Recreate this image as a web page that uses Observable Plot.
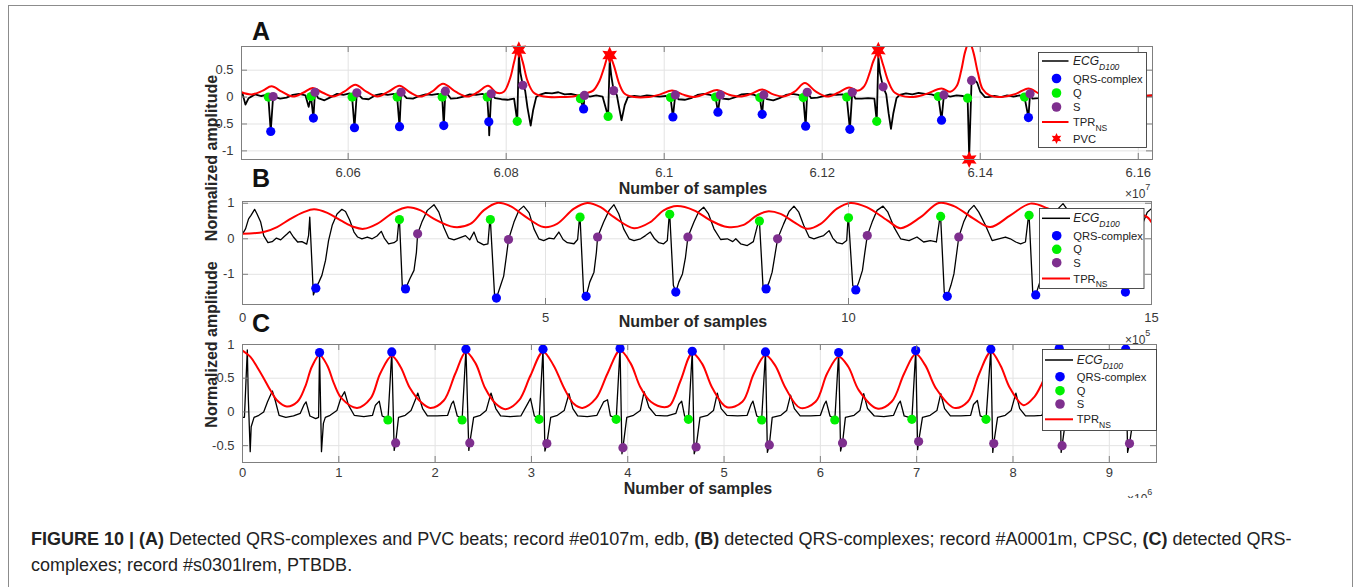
<!DOCTYPE html>
<html><head><meta charset="utf-8">
<script src="https://cdn.jsdelivr.net/npm/d3@7"></script>
<script src="https://cdn.jsdelivr.net/npm/@observablehq/plot@0.6"></script>
<style>
html,body{margin:0;padding:0;background:#fff;}
#fig{position:relative;width:1356px;height:587px;overflow:hidden;font-family:"Liberation Sans",Arial,Helvetica,sans-serif;background:#fff;}
.panel{position:absolute;left:0;width:1356px;}
.panel svg{overflow:visible;display:block;}
#frame{position:absolute;left:8px;top:5px;width:1343px;height:640px;border:1.5px solid #8c8c8c;border-bottom:none;}
.cap{position:absolute;left:31px;font-size:18px;line-height:16px;color:#222;white-space:nowrap;}
</style></head>
<body><div id="fig"><div id="frame"></div></div>
<script>
// ---------------- DATA ----------------
// Panel A (x in units of 1e7 samples)
const aXTicks = [6.06, 6.08, 6.1, 6.12, 6.14, 6.16];
const aXTickLabels = ["6.06", "6.08", "6.1", "6.12", "6.14", "6.16"];
const aYTicks = [-1, -0.5, 0, 0.5];
const aYTickLabels = ["-1", "-0.5", "0", "0.5"];
const aQ = [[6.0499,0.0],[6.0553,0.01],[6.0605,0.0],[6.0662,0.0],[6.0719,0.0],[6.0776,0.0],[6.0814,-0.45],[6.0894,-0.03],[6.0929,-0.36],[6.1008,-0.01],[6.1065,0.0],[6.1121,-0.01],[6.1176,-0.01],[6.1231,0.0],[6.1269,-0.45],[6.1347,0.01],[6.1384,-0.02],[6.1456,0.0]];
const aQRS = [[6.0502,-0.64],[6.0556,-0.39],[6.0608,-0.57],[6.0665,-0.55],[6.0721,-0.53],[6.0778,-0.46],[6.0898,-0.22],[6.1011,-0.37],[6.1068,-0.28],[6.1124,-0.32],[6.1179,-0.54],[6.1235,-0.60],[6.1351,-0.43],[6.1461,-0.38]];
const aS = [[6.0505,0.01],[6.0558,0.09],[6.0611,0.08],[6.0667,0.09],[6.0723,0.11],[6.0781,0.06],[6.0821,0.22],[6.0899,0.03],[6.0936,0.12],[6.1014,0.04],[6.1071,0.04],[6.1126,0.04],[6.1181,0.09],[6.1238,0.09],[6.1277,0.19],[6.1354,0.04],[6.1389,0.31],[6.1463,0.06]];
const aPVC = [[6.0816,0.88],[6.0931,0.78],[6.1271,0.87],[6.1386,-1.16]];
const aEcgBase = [[6.0466,0.08],[6.0470,-0.14],[6.0474,-0.02],[6.0482,0.05],[6.0490,0.02],[6.0497,0.04],
[6.0514,-0.03],[6.0522,-0.01],[6.0530,0.04],[6.0538,0.06],[6.0546,0.03],[6.0550,-0.18],
[6.0562,-0.02],[6.0570,-0.06],[6.0578,0.0],[6.0586,0.06],[6.0594,0.04],[6.0602,0.07],
[6.0618,-0.03],[6.0626,-0.04],[6.0634,0.03],[6.0642,0.06],[6.0650,0.04],[6.0658,0.06],
[6.0674,-0.02],[6.0682,-0.03],[6.0690,0.02],[6.0698,0.05],[6.0706,0.04],[6.0714,0.06],
[6.0730,-0.03],[6.0738,-0.02],[6.0746,0.01],[6.0754,0.05],[6.0762,0.04],[6.0770,0.06],
[6.0786,-0.02],[6.0794,-0.04],[6.0802,-0.05],[6.0810,-0.03],
[6.0842,0.04],[6.0850,0.08],[6.0858,0.07],[6.0866,0.09],[6.0874,0.05],[6.0882,0.06],[6.0890,0.03],
[6.0906,0.01],[6.0914,0.03],[6.0922,0.01],
[6.0954,0.0],[6.0962,0.02],[6.0970,0.01],[6.0978,0.03],[6.0986,0.02],[6.0994,0.01],[6.1002,0.02],
[6.1018,-0.04],[6.1026,-0.05],[6.1034,-0.02],[6.1042,0.04],[6.1050,0.06],[6.1058,0.04],
[6.1074,-0.03],[6.1082,-0.04],[6.1090,0.0],[6.1098,0.05],[6.1106,0.06],[6.1114,0.04],
[6.1130,-0.04],[6.1138,-0.06],[6.1146,-0.02],[6.1154,0.04],[6.1162,0.06],[6.1170,0.04],
[6.1186,-0.02],[6.1194,-0.01],[6.1202,0.02],[6.1210,0.05],[6.1218,0.04],[6.1226,0.05],
[6.1242,-0.03],[6.1250,-0.03],[6.1258,-0.02],[6.1266,-0.03],
[6.1298,0.04],[6.1306,0.07],[6.1314,0.05],[6.1322,0.08],[6.1330,0.06],[6.1338,0.05],
[6.1362,0.01],[6.1370,0.03],[6.1378,0.02],
[6.1410,0.0],[6.1418,0.02],[6.1426,0.0],[6.1434,0.03],[6.1442,0.01],[6.1450,0.03],
[6.1466,-0.03],[6.1474,-0.02],[6.1482,0.02],[6.1609,0.02],[6.1618,0.03]];
const aEcgExtra = [[6.07785,-0.71],[6.0816,0.78],[6.0818,0.45],[6.0824,0.12],[6.0827,-0.2],[6.0831,-0.53],[6.0834,-0.25],[6.0838,0.0],
[6.0931,0.68],[6.0933,0.4],[6.0940,0.04],[6.0943,-0.2],[6.0946,-0.43],[6.0950,-0.15],
[6.1271,0.75],[6.1273,0.45],[6.1281,0.05],[6.1284,-0.3],[6.1287,-0.59],[6.1290,-0.3],[6.1294,-0.02],
[6.1386,-1.1],[6.1392,0.33],[6.1396,0.27],[6.1400,0.1],[6.1406,0.0]];
const aTPR = [[6.0465,0.09],[6.0478,0.05],[6.0492,0.12],[6.0503,0.2],[6.0516,0.1],[6.0530,0.01],[6.0543,0.08],[6.0555,0.17],[6.0568,0.08],[6.0581,0.01],[6.0595,0.1],[6.0609,0.23],[6.0623,0.1],[6.0637,0.01],[6.0651,0.1],[6.0665,0.21],[6.0678,0.09],[6.0691,0.01],[6.0706,0.1],[6.0720,0.25],[6.0736,0.1],[6.0751,0.01],[6.0764,0.09],[6.0777,0.21],[6.0788,0.08],[6.0797,0.1],[6.0805,0.35],[6.0810,0.65],[6.0815,0.9],[6.0821,0.65],[6.0827,0.3],[6.0835,0.08],[6.0848,0.01],
[6.0870,0.0],[6.0888,0.02],[6.0900,0.07],[6.0910,0.12],[6.0918,0.3],[6.0924,0.55],[6.0930,0.79],[6.0936,0.6],[6.0943,0.25],[6.0950,0.06],[6.0962,0.0],[6.0980,0.0],[6.0995,0.05],[6.1010,0.12],[6.1023,0.05],[6.1037,0.0],[6.1052,0.06],[6.1067,0.13],[6.1081,0.05],[6.1096,0.01],[6.1110,0.06],[6.1124,0.14],[6.1138,0.05],[6.1151,0.01],[6.1165,0.1],[6.1178,0.26],[6.1192,0.1],[6.1206,0.01],[6.1220,0.08],[6.1234,0.18],[6.1245,0.12],[6.1253,0.2],[6.1260,0.45],[6.1265,0.68],[6.1271,0.84],[6.1277,0.6],[6.1284,0.28],[6.1292,0.08],[6.1311,0.0],[6.1330,0.05],[6.1351,0.16],[6.1362,0.1],[6.1370,0.2],[6.1376,0.5],[6.1381,0.85],[6.1386,1.03],[6.1391,0.85],[6.1397,0.45],[6.1403,0.15],[6.1412,0.03],[6.1425,0.0],[6.1445,0.06],[6.1461,0.16],[6.1475,0.06],[6.1486,0.01],[6.1618,0.03]];

// Panel B (x in units of 1e5 samples)
const bXTicks = [0, 5, 10, 15];
const bXTickLabels = ["0", "5", "10", "15"];
const bYTicks = [-1, 0, 1];
const bYTickLabels = ["-1", "0", "1"];
const bQRS = [[1.21,-1.39],[2.69,-1.41],[4.19,-1.67],[5.67,-1.62],[7.15,-1.5],[8.64,-1.41],[10.12,-1.44],[11.63,-1.62],[13.09,-1.58],[14.57,-1.5]];
const bQ = [[2.59,0.54],[4.09,0.54],[5.57,0.61],[7.05,0.69],[8.53,0.50],[10.0,0.59],[11.52,0.63],[12.98,0.66]];
const bS = [[2.89,0.14],[4.39,-0.02],[5.86,0.05],[7.35,0.05],[8.83,0.0],[10.31,0.09],[11.82,0.05]];
const bEcgBase = [[0.0,0.14],[0.05,0.28],[0.10,0.56],[0.14,0.66],[0.20,0.83],[0.24,0.70],[0.30,0.47],[0.35,0.09],[0.42,-0.11],[0.49,-0.08],[0.56,0.02],[0.63,-0.03],[0.68,0.05],[0.74,0.14],[0.78,0.21],[0.84,0.05],[0.91,-0.09],[0.98,-0.08],[1.06,-0.15],[1.09,0.09],[1.11,0.61],[1.17,-1.58],
[1.26,-1.22],[1.31,-1.03],[1.37,-0.61],[1.42,-0.05],[1.48,0.38],[1.56,0.70],[1.64,0.83],[1.70,0.77],[1.77,0.52],[1.84,0.19],[1.90,0.05],[1.97,0.0],[2.06,0.05],[2.14,0.0],[2.22,0.08],[2.29,0.21],[2.34,0.02],[2.41,-0.14],[2.50,-0.11],[2.55,-0.05],[2.585,0.6],
[2.64,-1.46],[2.76,-1.13],[2.83,-0.89],[2.87,-0.38],
[2.96,0.47],[3.05,0.80],[3.16,0.96],[3.24,0.75],[3.32,0.33],[3.40,0.02],[3.49,-0.03],[3.57,0.02],[3.68,0.09],[3.75,-0.03],[3.82,0.19],[3.88,-0.08],[3.98,-0.17],[4.05,-0.14],[4.085,0.6],
[4.16,-1.60],[4.26,-1.31],[4.31,-1.05],[4.36,-0.42],
[4.48,0.47],[4.56,0.80],[4.64,0.92],[4.73,0.73],[4.81,0.28],[4.89,0.0],[4.97,-0.05],[5.06,0.02],[5.14,0.0],[5.22,0.19],[5.29,-0.02],[5.36,-0.11],[5.47,-0.14],[5.53,-0.02],[5.565,0.66],
[5.63,-1.55],[5.73,-1.22],[5.80,-0.94],[5.84,-0.38],
[5.96,0.47],[6.05,0.80],[6.13,0.96],[6.21,0.70],[6.29,0.28],[6.38,0.0],[6.46,-0.05],[6.57,0.0],[6.65,0.09],[6.73,0.19],[6.80,0.0],[6.87,-0.11],[6.95,-0.14],[7.01,-0.05],[7.045,0.74],
[7.11,-1.31],[7.20,-1.22],[7.26,-0.99],[7.31,-0.52],
[7.45,0.47],[7.53,0.77],[7.61,0.89],[7.69,0.70],[7.78,0.28],[7.89,-0.02],[8.00,0.0],[8.09,-0.08],[8.14,0.0],[8.22,-0.14],[8.33,-0.19],[8.43,-0.08],[8.525,0.56],
[8.59,-1.36],[8.69,-1.22],[8.74,-0.94],[8.79,-0.42],
[8.93,0.42],[9.02,0.77],[9.10,0.92],[9.18,0.75],[9.26,0.38],[9.35,0.05],[9.43,0.0],[9.51,0.05],[9.59,0.09],[9.68,0.23],[9.74,0.02],[9.81,-0.11],[9.90,-0.14],[9.97,-0.05],[9.995,0.64],
[10.07,-1.31],[10.17,-1.22],[10.23,-0.89],[10.27,-0.38],
[10.39,0.47],[10.47,0.80],[10.57,0.92],[10.65,0.75],[10.75,0.33],[10.86,0.0],[11.00,-0.05],[11.13,0.05],[11.24,-0.09],[11.35,-0.05],[11.45,-0.09],[11.515,0.68],
[11.58,-1.5],[11.69,-1.31],[11.74,-0.99],[11.78,-0.47],
[11.90,0.47],[11.99,0.80],[12.07,0.94],[12.15,0.75],[12.26,0.38],[12.37,-0.05],[12.48,0.0],[12.59,0.05],[12.67,0.0],[12.76,-0.09],[12.84,-0.14],[12.92,-0.09],[12.975,0.71],
[13.04,-1.5],[13.14,-1.31],[13.20,-1.0],[13.25,-0.4],[13.30,0.05],[13.38,0.47],[13.46,0.85],[13.54,0.99],[13.62,0.8],[13.72,0.3],[13.85,0.0],[14.00,-0.05],[14.20,0.05],[14.35,-0.12],[14.46,0.62],[14.52,-1.4],
[14.62,-1.25],[14.68,-0.95],[14.73,-0.4],[14.78,0.05],[14.86,0.45],[14.93,0.75],[15.0,0.85]];
const bTPR = [[0.0,0.14],[0.35,0.19],[0.57,0.33],[0.79,0.56],[1.01,0.75],[1.18,0.83],[1.40,0.73],[1.62,0.52],[1.84,0.33],[2.0,0.28],[2.22,0.42],[2.50,0.75],[2.72,0.89],[2.94,0.8],[3.16,0.56],[3.49,0.33],[3.76,0.42],[3.98,0.8],[4.20,1.01],[4.42,0.92],[4.64,0.66],[4.97,0.33],[5.19,0.42],[5.47,0.85],[5.69,1.01],[5.91,0.89],[6.13,0.61],[6.46,0.30],[6.73,0.47],[6.95,0.80],[7.17,0.92],[7.45,0.80],[7.72,0.52],[8.0,0.33],[8.27,0.39],[8.49,0.66],[8.66,0.77],[8.88,0.70],[9.10,0.47],[9.32,0.28],[9.54,0.42],[9.81,0.85],[10.03,1.01],[10.30,0.89],[10.64,0.52],[10.86,0.30],[11.19,0.61],[11.49,1.01],[11.74,0.92],[12.07,0.56],[12.34,0.33],[12.67,0.66],[13.0,0.99],[13.28,0.86],[13.6,0.55],[13.85,0.32],[14.2,0.55],[14.5,0.82],[14.8,0.7],[14.93,0.61],[15.0,0.47]];

// Panel C (x in units of 1e6 samples)
const cXTicks = [0, 1, 2, 3, 4, 5, 6, 7, 8, 9];
const cXTickLabels = ["0", "1", "2", "3", "4", "5", "6", "7", "8", "9"];
const cYTicks = [-0.5, 0, 0.5, 1];
const cYTickLabels = ["-0.5", "0", "0.5", "1"];
const cQRS = [[0.80,0.88],[1.55,0.89],[2.32,0.93],[3.12,0.93],[3.92,0.94],[4.67,0.90],[5.43,0.89],[6.19,0.88],[6.99,0.91],[7.77,0.93],[8.48,0.94],[9.17,0.93]];
const cQ = [[1.51,-0.12],[2.28,-0.12],[3.08,-0.11],[3.88,-0.11],[4.63,-0.11],[5.39,-0.12],[6.15,-0.12],[6.95,-0.11],[7.72,-0.11]];
const cS = [[1.59,-0.46],[2.36,-0.46],[3.16,-0.47],[3.95,-0.53],[4.71,-0.52],[5.47,-0.49],[6.23,-0.46],[7.02,-0.44],[7.80,-0.47],[8.51,-0.5],[9.21,-0.47]];
const cEcgBase = [[0.0,-0.08],[0.02,-0.08],[0.05,0.92],[0.06,0.22],[0.08,-0.59],[0.09,-0.22],[0.12,-0.08],[0.17,-0.05],[0.22,0.0],[0.26,0.15],[0.31,0.31],[0.34,0.17],[0.38,-0.05],[0.45,-0.08],[0.53,-0.06],[0.60,-0.02],[0.64,0.11],[0.66,0.15],[0.70,-0.06],[0.76,-0.1],[0.79,-0.08],
[0.82,-0.59],[0.84,-0.17],[0.86,-0.08],[0.91,-0.05],[0.98,0.02],[1.02,0.20],[1.06,0.30],[1.10,0.10],[1.16,-0.05],[1.26,-0.07],[1.35,-0.05],[1.38,0.10],[1.42,0.16],[1.45,-0.06],[1.48,-0.08],
[1.575,-0.57],[1.62,-0.08],[1.69,-0.05],[1.75,0.02],[1.80,0.20],[1.82,0.28],[1.87,0.05],[1.92,-0.06],[2.02,-0.06],[2.13,-0.05],[2.17,0.12],[2.19,0.16],[2.23,-0.06],[2.26,-0.08],
[2.35,-0.57],[2.40,-0.08],[2.47,-0.05],[2.53,0.02],[2.58,0.28],[2.63,0.05],[2.68,-0.06],[2.78,-0.07],[2.89,-0.06],[2.96,0.12],[2.99,0.20],[3.03,-0.06],[3.06,-0.08],
[3.14,-0.58],[3.20,-0.08],[3.27,-0.05],[3.34,0.02],[3.39,0.27],[3.43,0.05],[3.48,-0.06],[3.58,-0.07],[3.68,-0.05],[3.75,0.15],[3.79,0.18],[3.82,-0.06],[3.86,-0.08],
[3.94,-0.62],[3.99,-0.08],[4.06,-0.05],[4.13,0.02],[4.17,0.30],[4.22,0.07],[4.29,-0.05],[4.38,-0.06],[4.41,-0.06],[4.50,-0.02],[4.53,0.11],[4.56,0.16],[4.59,-0.06],[4.61,-0.08],
[4.69,-0.62],[4.75,-0.08],[4.83,-0.05],[4.89,0.02],[4.93,0.28],[4.97,0.05],[5.03,-0.05],[5.14,-0.06],[5.24,-0.05],[5.28,0.11],[5.30,0.16],[5.34,-0.06],[5.37,-0.08],
[5.45,-0.60],[5.50,-0.08],[5.59,-0.05],[5.65,0.02],[5.69,0.25],[5.73,0.05],[5.79,-0.06],[5.90,-0.06],[6.00,-0.05],[6.04,0.11],[6.06,0.16],[6.10,-0.06],[6.12,-0.08],
[6.21,-0.58],[6.26,-0.08],[6.35,-0.05],[6.41,0.02],[6.45,0.27],[6.49,0.05],[6.56,-0.06],[6.66,-0.07],[6.76,-0.05],[6.81,0.12],[6.83,0.16],[6.87,-0.06],[6.92,-0.08],
[7.01,-0.56],[7.06,-0.08],[7.14,-0.05],[7.21,0.02],[7.25,0.27],[7.29,0.05],[7.35,-0.06],[7.46,-0.06],[7.56,-0.05],[7.59,0.11],[7.63,0.17],[7.66,-0.06],[7.70,-0.08],
[7.79,-0.60],[7.84,-0.08],[7.92,-0.05],[7.98,0.02],[8.03,0.28],[8.07,0.05],[8.13,-0.06],[8.22,-0.06],[8.30,-0.05],[8.36,0.14],[8.40,-0.08],[8.44,-0.11],
[8.50,-0.60],[8.55,-0.08],[8.62,-0.05],[8.66,0.02],[8.70,0.28],[8.75,0.02],[8.85,-0.06],[9.00,-0.05],[9.06,0.15],[9.10,-0.08],[9.13,-0.11],
[9.19,-0.60],[9.25,-0.08],[9.32,-0.05],[9.38,0.02],[9.43,0.30],[9.47,0.05],[9.49,-0.02]];
const cTPR = [[0.0,0.91],[0.08,0.82],[0.15,0.67],[0.22,0.50],[0.29,0.32],[0.36,0.17],[0.46,0.08],[0.57,0.15],[0.65,0.37],[0.72,0.67],[0.80,0.84],[0.88,0.69],[0.95,0.42],[1.03,0.2],[1.19,0.06],[1.33,0.2],[1.43,0.57],[1.55,0.83],[1.64,0.67],[1.74,0.35],[1.85,0.15],[1.95,0.06],[2.09,0.17],[2.21,0.57],[2.32,0.89],[2.42,0.72],[2.52,0.35],[2.63,0.12],[2.73,0.04],[2.87,0.17],[2.99,0.54],[3.12,0.89],[3.23,0.69],[3.34,0.35],[3.44,0.12],[3.53,0.06],[3.67,0.2],[3.79,0.57],[3.92,0.91],[4.03,0.72],[4.13,0.37],[4.24,0.15],[4.38,0.07],[4.44,0.1],[4.55,0.47],[4.67,0.87],[4.77,0.72],[4.88,0.35],[5.03,0.07],[5.19,0.15],[5.31,0.57],[5.43,0.84],[5.53,0.69],[5.64,0.35],[5.79,0.06],[5.95,0.15],[6.07,0.57],[6.19,0.82],[6.29,0.67],[6.40,0.32],[6.59,0.05],[6.74,0.15],[6.87,0.57],[6.99,0.86],[7.09,0.69],[7.20,0.35],[7.39,0.06],[7.53,0.15],[7.65,0.57],[7.77,0.89],[7.87,0.69],[7.97,0.35],[8.11,0.1],[8.22,0.22],[8.30,0.42],[8.40,0.75],[8.48,0.9],[8.56,0.65],[8.66,0.2],[8.78,0.08],[8.92,0.25],[9.05,0.7],[9.17,0.9],[9.27,0.65],[9.39,0.25],[9.49,0.13]];

// Texts
const panelLetters = ["A", "B", "C"];
const xAxisTitle = "Number of samples";
const yAxisTitle = "Normalized amplitude";
const xExponents = ["7", "5", "6"];
const legendText = {ecg: ["ECG", "D100"], qrs: ["QRS-complex"], q: ["Q"], s: ["S"], tpr: ["TPR", "NS"], pvc: ["PVC"]};
const legendKeysA = ["ecg", "qrs", "q", "s", "tpr", "pvc"];
const legendKeysBC = ["ecg", "qrs", "q", "s", "tpr"];
const captionLine1 = [["FIGURE 10 | (A)", true], [" Detected QRS-complexes and PVC beats; record #e0107m, edb, ", false], ["(B)", true], [" detected QRS-complexes; record #A0001m, CPSC, ", false], ["(C)", true], [" detected QRS-", false]];
const captionLine2 = [["complexes; record #s0301lrem, PTBDB.", false]];

// ---------------- STYLE / LAYOUT ----------------
const W = 1356;
const FONT = '"Liberation Sans", Arial, Helvetica, sans-serif';
const COL = {ecg: "#000000", qrs: "#0000ff", q: "#00f000", s: "#7e2f8e", tpr: "#ff0000", pvc: "#ff0000"};
const AXIS = "#7f7f7f", GRID = "#e3e3e3";

const hexagram = {
  draw(ctx, size) {
    const R = Math.sqrt(size / Math.PI), r = R * 0.52;
    for (let i = 0; i < 12; i++) {
      const a = Math.PI / 6 * i - Math.PI / 2, rr = i % 2 ? r : R;
      const x = rr * Math.cos(a), y = rr * Math.sin(a);
      i ? ctx.lineTo(x, y) : ctx.moveTo(x, y);
    }
    ctx.closePath();
  }
};

const byX = (...lists) => lists.flat().slice().sort((p, q) => p[0] - q[0]);
const X = d => d[0], Y = d => d[1];

function makePanel(c) {
  const iH = c.height - c.mT - c.mB, iW = W - c.mL - c.mR;
  const marks = [
    Plot.gridX(c.xTicks, {stroke: GRID, strokeOpacity: 1}),
    Plot.gridY(c.yTicks, {stroke: GRID, strokeOpacity: 1}),
    Plot.line(c.ecg, {x: X, y: Y, stroke: COL.ecg, strokeWidth: c.ecgWidth, clip: true}),
    Plot.line(c.tpr, {x: X, y: Y, stroke: COL.tpr, strokeWidth: 2, curve: "catmull-rom", clip: true}),
    Plot.dot(c.qrs, {x: X, y: Y, r: 4.6, fill: COL.qrs}),
    Plot.dot(c.q, {x: X, y: Y, r: 4.6, fill: COL.q}),
    Plot.dot(c.s, {x: X, y: Y, r: 4.6, fill: COL.s})
  ];
  if (c.pvc) marks.push(Plot.dot(c.pvc, {x: X, y: Y, r: 8.5, symbol: hexagram, fill: COL.pvc}));
  marks.push(
    Plot.frame({stroke: AXIS}),
    Plot.tickX(c.xTicks, {x: d => d, insetTop: iH - 6, stroke: AXIS}),
    Plot.tickX(c.xTicks, {x: d => d, insetBottom: iH - 6, stroke: AXIS}),
    Plot.tickY(c.yTicks, {y: d => d, insetRight: iW - 6, stroke: AXIS}),
    Plot.tickY(c.yTicks, {y: d => d, insetLeft: iW - 6, stroke: AXIS}),
    Plot.axisX(c.xTicks, {tickSize: 0, tickPadding: c.xPad, tickFormat: d => c.xLabels[c.xTicks.indexOf(d)], label: null}),
    Plot.axisY(c.yTicks, {tickSize: 0, tickPadding: 8, tickFormat: d => c.yLabels[c.yTicks.indexOf(d)], label: null})
  );
  const svg = Plot.plot({
    width: W, height: c.height,
    marginTop: c.mT, marginBottom: c.mB, marginLeft: c.mL, marginRight: c.mR,
    x: {domain: c.xDomain}, y: {domain: c.yDomain},
    style: {background: "none", overflow: "visible", fontFamily: FONT, fontSize: "13px", color: "#383838"},
    marks
  });
  const div = document.createElement("div");
  div.className = "panel";
  div.style.top = c.top + "px";
  div.appendChild(svg);
  document.getElementById("fig").appendChild(div);
}

makePanel({top: 0, height: 200, mT: 46, mB: 41, mL: 241, mR: 204,
  xDomain: [6.0465, 6.1618], yDomain: [-1.16, 0.94],
  xTicks: aXTicks, xLabels: aXTickLabels, yTicks: aYTicks, yLabels: aYTickLabels, xPad: 8,
  ecg: byX(aEcgBase, aQ, aQRS, aS, aEcgExtra), tpr: aTPR, qrs: aQRS, q: aQ, s: aS, pvc: aPVC, ecgWidth: 1.8});
makePanel({top: 185, height: 150, mT: 16, mB: 31, mL: 242, mR: 205,
  xDomain: [0, 15], yDomain: [-1.85, 1.05],
  xTicks: bXTicks, xLabels: bXTickLabels, yTicks: bYTicks, yLabels: bYTickLabels, xPad: 8,
  ecg: byX(bEcgBase, bQ, bQRS, bS), tpr: bTPR, qrs: bQRS, q: bQ, s: bS, ecgWidth: 1.3});
makePanel({top: 330, height: 175, mT: 14, mB: 43, mL: 242, mR: 200,
  xDomain: [0, 9.49], yDomain: [-0.75, 1.0],
  xTicks: cXTicks, xLabels: cXTickLabels, yTicks: cYTicks, yLabels: cYTickLabels, xPad: 5,
  ecg: byX(cEcgBase, cQ, cQRS, cS), tpr: cTPR, qrs: cQRS, q: cQ, s: cS, ecgWidth: 1.3});

// ---------------- OVERLAY TEXT & LEGENDS ----------------
const ov = d3.select("#fig").append("svg")
  .attr("width", W).attr("height", 587)
  .style("position", "absolute").style("left", "0px").style("top", "0px")
  .style("font-family", FONT);

const letterPos = [[252, 40], [252, 187], [252, 331.5]];
panelLetters.forEach((t, i) => ov.append("text").attr("x", letterPos[i][0]).attr("y", letterPos[i][1])
  .attr("font-size", 25).attr("font-weight", "bold").attr("fill", "#111").text(t));

const xTitlePos = [[693, 194], [693, 327], [698, 494]];
xTitlePos.forEach(p => ov.append("text").attr("x", p[0]).attr("y", p[1]).attr("text-anchor", "middle")
  .attr("font-size", 16).attr("font-weight", "bold").attr("fill", "#262626").text(xAxisTitle));

const yTitlePos = [[216.5, 158], [216.5, 344.5]];
yTitlePos.forEach(p => ov.append("text").attr("transform", `translate(${p[0]},${p[1]}) rotate(-90)`)
  .attr("text-anchor", "middle").attr("font-size", 16).attr("font-weight", "bold").attr("fill", "#262626").text(yAxisTitle));

ov.append("clipPath").attr("id", "cut").append("rect").attr("x", 0).attr("y", 0).attr("width", W).attr("height", 498);
const expPos = [[1125, 198], [1125, 344], [1127, 503]];
xExponents.forEach((e, i) => {
  const t = ov.append("text").attr("x", expPos[i][0]).attr("y", expPos[i][1]).attr("font-size", 12).attr("fill", "#383838");
  if (i === 2) t.attr("clip-path", "url(#cut)");
  t.append("tspan").text("\u00d710");
  t.append("tspan").attr("font-size", 9).attr("dy", -8).text(e);
});

function drawLegend(L) {
  const g = ov.append("g");
  g.append("rect").attr("x", L.box[0] + 0.5).attr("y", L.box[1] + 0.5).attr("width", L.box[2]).attr("height", L.box[3])
    .attr("fill", "#fff").attr("stroke", "#3c3c3c").attr("stroke-width", 0.9);
  L.keys.forEach((k, i) => {
    const y = L.rows[i];
    if (k === "ecg" || k === "tpr") {
      g.append("line").attr("x1", L.line[0]).attr("x2", L.line[1]).attr("y1", y).attr("y2", y)
        .attr("stroke", COL[k]).attr("stroke-width", k === "tpr" ? 2 : 1.5);
    } else if (k === "pvc") {
      const p = d3.path(); hexagram.draw(p, 5.5 * 5.5 * Math.PI);
      g.append("path").attr("d", p.toString()).attr("transform", `translate(${L.symX},${y})`).attr("fill", COL.pvc);
    } else {
      g.append("circle").attr("cx", L.symX).attr("cy", y).attr("r", 4.8).attr("fill", COL[k]);
    }
    const [main, sub] = legendText[k];
    const t = g.append("text").attr("x", L.textX).attr("y", y + 4).attr("fill", "#222")
      .attr("font-size", k === "ecg" ? 12 : 11.2).attr("font-style", k === "ecg" ? "italic" : "normal");
    t.append("tspan").text(main);
    if (sub) t.append("tspan").attr("font-size", 8.5).attr("dy", 4.5).text(sub);
  });
}
drawLegend({box: [1038, 52, 108, 95], rows: [61, 78.5, 93, 107, 122, 138.5], symX: 1056.5, line: [1042, 1068.5], textX: 1073, keys: legendKeysA});
drawLegend({box: [1039, 208, 104.5, 80], rows: [218.3, 235.7, 249.3, 262.7, 278.5], symX: 1056.7, line: [1042, 1070], textX: 1073.3, keys: legendKeysBC});
drawLegend({box: [1042, 349, 114, 81], rows: [360, 376.7, 390.7, 404, 419.3], symX: 1060, line: [1045, 1073], textX: 1076.7, keys: legendKeysBC});

// ---------------- CAPTION ----------------
[[captionLine1, 531], [captionLine2, 557]].forEach(([parts, top]) => {
  const div = document.createElement("div");
  div.className = "cap";
  div.style.top = top + "px";
  parts.forEach(([txt, bold]) => {
    const s = document.createElement("span");
    if (bold) s.style.fontWeight = "bold";
    s.textContent = txt;
    div.appendChild(s);
  });
  document.getElementById("fig").appendChild(div);
});
</script>
</body></html>
